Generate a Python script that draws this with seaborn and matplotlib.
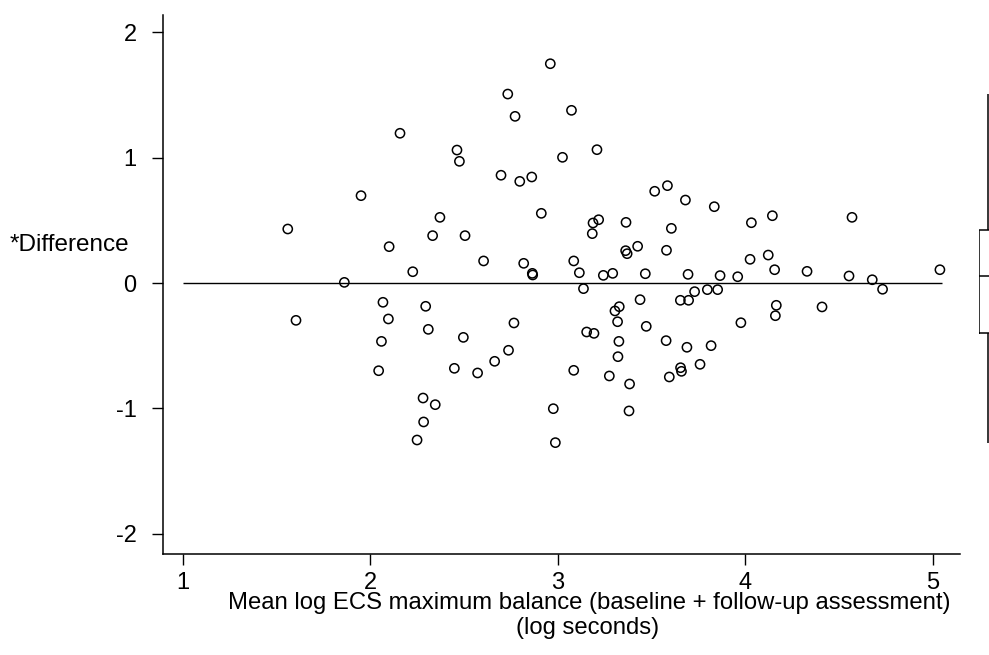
import numpy as np
import pandas as pd
import matplotlib
matplotlib.use("Agg")
import matplotlib.pyplot as plt
import seaborn as sns

# Mean log ECS maximum balance (x) and difference (y)
mean_log = [
    2.158, 1.950, 1.559, 2.100, 2.332, 2.960, 2.733, 3.073, 2.772, 2.462,
    2.475, 3.209, 3.025, 2.697, 2.797, 2.861, 3.517, 3.585, 3.681, 2.371,
    2.505, 2.912, 3.188, 3.218, 3.184, 3.364, 3.606, 3.362, 3.370, 3.426,
    3.580, 3.835, 4.033, 4.145, 4.570, 4.026, 4.123, 2.226, 1.861, 2.067,
    2.295, 1.603, 2.096, 2.309, 2.059, 2.044, 2.281, 2.284, 2.249, 2.346,
    2.604, 2.818, 2.864, 2.866, 3.085, 3.115, 3.243, 3.293, 3.467, 3.695,
    3.137, 3.439, 3.730, 3.654, 3.698, 3.328, 3.305, 3.319, 2.766, 3.154,
    3.193, 3.472, 2.496, 3.326, 3.578, 2.737, 3.689, 2.663, 3.321, 2.448,
    2.572, 3.085, 3.275, 3.383, 3.595, 3.655, 3.660, 3.759, 2.976, 3.380,
    2.987, 3.866, 3.960, 4.157, 4.330, 4.554, 4.678, 5.039, 3.798, 3.853,
    4.733, 4.166, 4.161, 4.410, 3.977, 3.818,
]
difference = [
    1.195, 0.697, 0.431, 0.290, 0.378, 1.750, 1.508, 1.378, 1.330, 1.061,
    0.971, 1.064, 1.003, 0.860, 0.811, 0.846, 0.732, 0.777, 0.662, 0.524,
    0.378, 0.556, 0.479, 0.505, 0.394, 0.484, 0.436, 0.258, 0.234, 0.293,
    0.261, 0.609, 0.481, 0.537, 0.524, 0.189, 0.223, 0.090, 0.005, -0.154,
    -0.186, -0.298, -0.287, -0.370, -0.466, -0.700, -0.918, -1.109, -1.253, -0.971,
    0.176, 0.157, 0.077, 0.064, 0.176, 0.082, 0.061, 0.077, 0.074, 0.069,
    -0.045, -0.133, -0.069, -0.138, -0.138, -0.189, -0.223, -0.309, -0.319, -0.391,
    -0.402, -0.346, -0.434, -0.466, -0.460, -0.537, -0.513, -0.625, -0.588, -0.681,
    -0.718, -0.697, -0.742, -0.806, -0.750, -0.676, -0.705, -0.649, -1.003, -1.021,
    -1.274, 0.059, 0.050, 0.106, 0.093, 0.056, 0.026, 0.106, -0.053, -0.053,
    -0.050, -0.178, -0.261, -0.191, -0.317, -0.500,
]
x_ticks = [1, 2, 3, 4, 5]
y_ticks = [-2, -1, 0, 1, 2]
x_label_1 = "Mean log ECS maximum balance (baseline + follow-up assessment)"
x_label_2 = "(log seconds)"
y_label = "*Difference"

df = pd.DataFrame({"mean": mean_log, "diff": difference})

sns.set_theme(style="ticks")
plt.rcParams["font.family"] = ["Liberation Sans", "DejaVu Sans"]

W, H = 989, 655
fig = plt.figure(figsize=(W / 100, H / 100), dpi=100)
fig.patch.set_facecolor("white")

left, right, bottom, top = 163, 960, 554, 15
ax = fig.add_axes([left / W, 1 - bottom / H, (right - left) / W, (bottom - top) / H])
ax.set_facecolor("white")

sns.scatterplot(data=df, x="mean", y="diff", ax=ax, marker="o",
                facecolor="none", edgecolor="black", linewidth=1.1, s=44,
                legend=False, zorder=3)
ax.hlines(0, 1, 5.05, color="black", linewidth=1.0, zorder=2)

x0 = 1 - (183 - left) / 187.4
x1 = 1 + (right - 183) / 187.4
y1 = (283 - top) / 125.3
y0 = (283 - bottom) / 125.3
ax.set_xlim(x0, x1)
ax.set_ylim(y0, y1)
ax.set_xticks(x_ticks)
ax.set_yticks(y_ticks)
ax.set_xticklabels([str(t) for t in x_ticks], fontsize=17)
ax.set_yticklabels([str(t) for t in y_ticks], fontsize=17)
ax.tick_params(axis="x", direction="out", length=8, width=1.0, pad=5, colors="black")
ax.tick_params(axis="y", direction="out", length=8, width=1.0, pad=11, colors="black")
ax.set_xlabel("")
ax.set_ylabel("")
for side in ["top", "right"]:
    ax.spines[side].set_visible(False)
for side in ["left", "bottom"]:
    ax.spines[side].set_linewidth(1.1)
    ax.spines[side].set_color("black")

fig.text(589 / W, 1 - 603 / H, x_label_1, ha="center", va="center",
         fontsize=17.2, color="black")
fig.text(588 / W, 1 - 628 / H, x_label_2, ha="center", va="center",
         fontsize=17.2, color="black")
fig.text(10 / W, 1 - 245 / H, y_label, ha="left", va="center", fontsize=17.5, color="black")

# box plot of the differences at the right margin (partly cut off)
ax2 = fig.add_axes([979 / W, 1 - bottom / H, 18 / W, (bottom - top) / H])
sns.boxplot(y=difference, ax=ax2, fill=False, color="black", width=1.0,
            showcaps=False, showfliers=False, whis=1.5, linewidth=1.1)
ax2.set_xlim(-0.5, 0.5)
ax2.set_ylim(y0, y1)
ax2.axis("off")

fig.savefig("out.png", dpi=100)
